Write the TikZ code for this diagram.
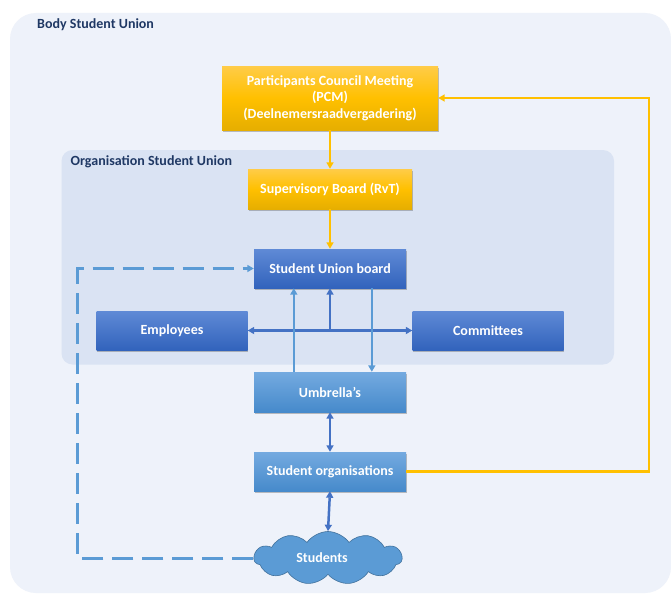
\documentclass[tikz,border=0pt]{standalone}
\usepackage{fontspec}
\setmainfont{Carlito}
\usetikzlibrary{shapes.symbols,shadows,arrows.meta,calc}
\definecolor{outerbg}{HTML}{EEF2FA}
\definecolor{innerbg}{HTML}{DAE3F3}
\definecolor{navy}{HTML}{1F3864}
\definecolor{orng}{HTML}{FFC000}
\definecolor{orngtop}{HTML}{FFCC48}
\definecolor{orngbot}{HTML}{E6AE00}
\definecolor{dkblue}{HTML}{4472C4}
\definecolor{dktop}{HTML}{5F8AD6}
\definecolor{dkbot}{HTML}{3263BC}
\definecolor{ltblue}{HTML}{5B9BD5}
\definecolor{lttop}{HTML}{74AAE0}
\definecolor{ltbot}{HTML}{468ACB}
\definecolor{cloudedge}{HTML}{41719C}
\begin{document}
\begin{tikzpicture}[x=1pt,y=-1pt,
  >={Triangle[length=6.5pt,width=7pt]},
  txt/.style={font=\bfseries\fontsize{14}{16.5}\selectfont, text=white, align=center, inner sep=0pt},
  shadowed/.style={drop shadow={shadow xshift=0.8pt, shadow yshift=-2pt, opacity=0.35, fill=black!70}},
  orngbox/.style={txt, shadowed, top color=orngtop, bottom color=orngbot, middle color=orng},
  dkbox/.style={txt, shadowed, top color=dktop, bottom color=dkbot},
  ltbox/.style={txt, shadowed, top color=lttop, bottom color=ltbot},
  orngline/.style={draw=orng, line width=2.5pt, ->},
  dkline/.style={draw=dkblue, line width=2.5pt},
  ltline/.style={draw=ltblue, line width=2pt},
  dshline/.style={draw=ltblue, line width=3pt, dash pattern=on 21pt off 9pt},
  lbl/.style={font=\bfseries\fontsize{14}{16}\selectfont, text=navy, inner sep=0pt, anchor=base west}
]
\useasboundingbox (0,0) rectangle (671,594);
\fill[white] (0,0) rectangle (671,594);
\fill[outerbg, rounded corners=26pt] (10,13) rectangle (671,593);
\fill[innerbg, rounded corners=11pt] (61.5,150) rectangle (614,364.5);
\node[lbl] (bodylbl) at (37,29) {Body Student Union};
\node[lbl] (orglbl) at (70.5,165.5) {Organisation Student Union};

\node[orngbox, minimum width=216pt, minimum height=64pt] (pcm) at (330,98)
  {Participants Council Meeting\\(PCM)\\(Deelnemersraadvergadering)};
\node[orngbox, minimum width=164pt, minimum height=40pt] (sup) at (330,189) {Supervisory Board (RvT)};
\node[dkbox, minimum width=152pt, minimum height=39pt] (sub) at (330,268.5) {Student Union board};
\node[dkbox, minimum width=151pt, minimum height=39pt] (emp) at (172,330.5) {Employees};
\node[dkbox, minimum width=151pt, minimum height=39pt] (com) at (488,330.5) {Committees};
\node[ltbox, minimum width=152pt, minimum height=40pt] (umb) at (330,392) {Umbrella’s};
\node[ltbox, minimum width=152pt, minimum height=39pt] (so) at (330,471.5) {Student organisations};
\node[cloud, cloud puffs=11, cloud puff arc=110, aspect=2.8, fill=ltblue, draw=cloudedge, line width=0.6pt,
  minimum width=148pt, minimum height=53pt, inner sep=0pt,
  font=\bfseries\fontsize{14}{16}\selectfont, text=white] (stu) at (328,558) {\hspace*{-12pt}Students};

% orange connectors
\draw[orngline] (pcm.south) -- (sup.north);
\draw[orngline] (sup.south) -- (sub.north);
\coordinate (orr) at (649,98);
\draw[orngline] (so.east) -| (orr) -- (pcm.east);

% dark blue connectors
\coordinate (junc) at (sub.south |- emp.east);
\draw[dkline, <->] (emp.east) -- (com.west);
\draw[dkline, ->] (junc) -- (sub.south);
\draw[dkline, <->] (umb.south) -- (so.north);
\draw[dkline, <->] (so.south) -- (stu.north);

% light blue connectors
\coordinate (ua) at ($(umb.north west)+(40,0)$);
\coordinate (sa) at ($(sub.south west)+(40,0)$);
\coordinate (ub) at ($(umb.north west)+(118,0)$);
\coordinate (sb) at ($(sub.south west)+(118,0)$);
\draw[ltline, ->] (ua) -- (sa);
\draw[ltline, ->] (sb) -- (ub);

% dashed connector
\coordinate (dl) at (77.7,268.5);
\draw[dshline, ->] (stu.west) -| (dl) -- (sub.west);
\end{tikzpicture}
\end{document}
